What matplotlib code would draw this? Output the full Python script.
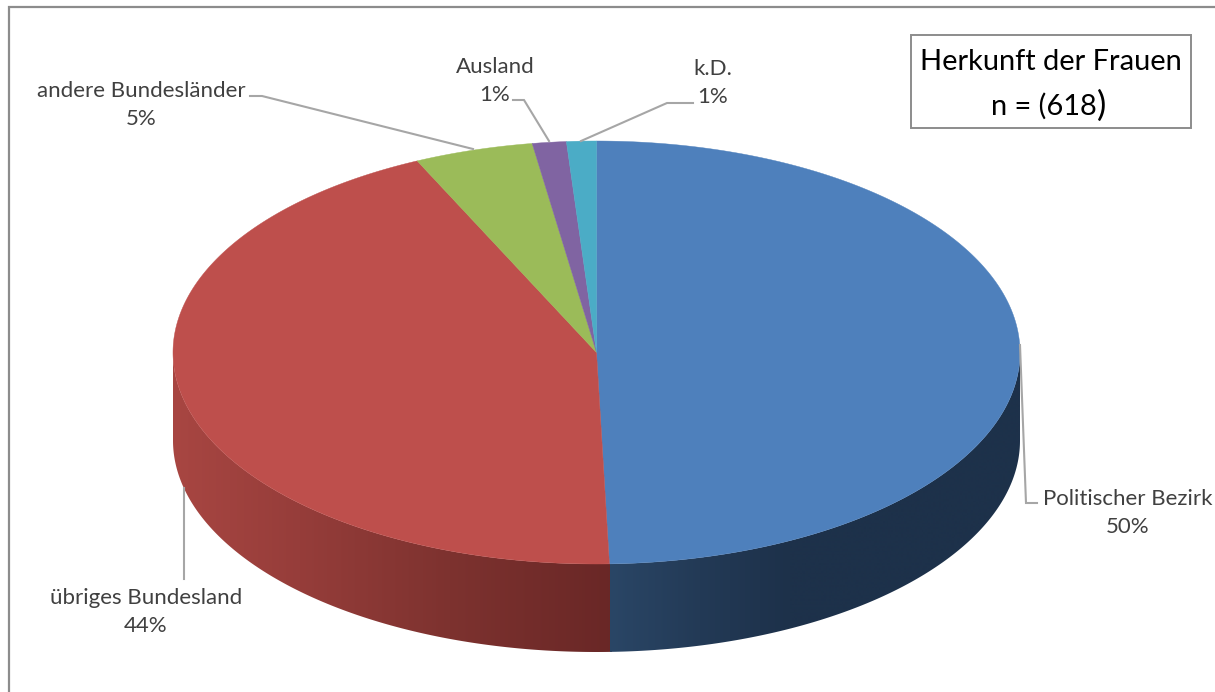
"""Herkunft der Frauen: 3D-style pie drawn on a pixel-sized axes."""

import matplotlib

matplotlib.use("Agg")
import matplotlib.pyplot as plt
import numpy as np
from matplotlib.path import Path
from matplotlib.patches import PathPatch, Polygon, Rectangle

categories = ["Politischer Bezirk", "übriges Bundesland", "andere Bundesländer", "Ausland", "k.D."]
counts = [306, 269, 28, 8, 7]
top_colors = ["#4E80BC", "#BE4F4C", "#9BBB59", "#8064A2", "#4BACC6"]
title_lines = ["Herkunft der Frauen", "n = (618", ")"]

# label centres and leader lines, in pixels of the 1215x692 figure
label_pos = [(1128, 513), (146, 612), (141, 105), (495, 81), (713, 83)]
leaders = [
    [(1020, 345), (1026, 503), (1037, 503)],
    [(184, 488), (184, 579)],
    [(250, 96), (262, 96), (473, 149)],
    [(513, 100), (524, 100), (549, 141)],
    [(693, 103), (667, 103), (581, 141)],
]

CX, CY, RX, RY, DEPTH = 596.5, 352.5, 423.5, 211.5, 88
FONT = ["Lato", "DejaVu Sans"]
FRAME = "#8C8C8C"
LEADER = "#A6A6A6"
TEXT = "#404040"

# wall shading: colour stops along x, (x, r, g, b)
RED_WALL = [(173, 168, 70, 66), (300, 150, 61, 58), (450, 125, 50, 47), (616, 105, 39, 38)]
BLUE_WALL = [(610, 42, 70, 102), (700, 35, 58, 86), (790, 29, 49, 74), (1020, 29, 49, 74)]


def rim(t):
    """Point on the top ellipse; t is clockwise from 12 o'clock, in radians."""
    return CX + RX * np.sin(t), CY - RY * np.cos(t)


def wall(ax, t0, t1, stops):
    """Front wall between two angles, filled with a horizontal gradient."""
    t = np.linspace(t0, t1, 300)
    x, y = rim(t)
    verts = np.vstack([np.c_[x, y], np.c_[x[::-1], y[::-1] + DEPTH]])
    clip = PathPatch(Path(np.vstack([verts, verts[:1]]), closed=True), fc="none", ec="none")
    ax.add_patch(clip)
    stops = np.array(stops, dtype=float)
    xs = np.arange(stops[0, 0], stops[-1, 0] + 1)
    img = np.stack([np.interp(xs, stops[:, 0], stops[:, i]) for i in (1, 2, 3)], axis=-1)
    im = ax.imshow(img[None, :, :] / 255, extent=(xs[0], xs[-1], 700, 300), aspect="auto",
                   interpolation="bilinear", zorder=2)
    im.set_clip_path(clip)


fig = plt.figure(figsize=(12.15, 6.92), dpi=100, facecolor="white")
ax = fig.add_axes([0, 0, 1, 1])

shares = np.array(counts) / sum(counts)
edges = np.concatenate([[0], np.cumsum(shares)]) * 2 * np.pi

# side walls are only visible on the front half; red runs slightly under blue to hide the seam
wall(ax, edges[1] - 0.006, 1.5 * np.pi, RED_WALL)
wall(ax, edges[0] + np.pi / 2, edges[1], BLUE_WALL)

for t0, t1, color in zip(edges[:-1], edges[1:], top_colors):
    t = np.linspace(t0, t1, 400)
    x, y = rim(t)
    pts = np.vstack([[CX, CY], np.c_[x, y]])
    ax.add_patch(Polygon(pts, closed=True, fc=color, ec=color, lw=0.3, zorder=3))

for line in leaders:
    xs, ys = zip(*line)
    ax.plot(xs, ys, color=LEADER, lw=1.5, zorder=4, solid_joinstyle="miter")

for name, share, (lx, ly) in zip(categories, shares, label_pos):
    ax.text(lx, ly, f"{name}\n{share * 100:.0f}%", ha="center", va="center", color=TEXT,
            fontsize=16, family=FONT, linespacing=1.56, zorder=5)

# outer frame: only left and top edges are in the picture
ax.plot([9, 9, 1215], [692, 7, 7], color=FRAME, lw=1.6, zorder=1, solid_joinstyle="miter")

ax.add_patch(Rectangle((911, 35), 280, 93, fc="white", ec=FRAME, lw=1.4, zorder=5))
ax.text(1051, 62, title_lines[0], ha="center", va="center", color="black", fontsize=20.9,
        family=FONT, zorder=6)
ax.text(1097, 115, title_lines[1], ha="right", va="baseline", color="black", fontsize=20.9,
        family=FONT, zorder=6)
# the closing bracket is set larger than the rest of the line
ax.text(1097, 116, title_lines[2], ha="left", va="baseline", color="black", fontsize=25,
        family=FONT, zorder=6)

ax.set_xlim(0, 1215)
ax.set_ylim(692, 0)
ax.axis("off")
fig.savefig("out.png", dpi=100, facecolor="white")
plt.close(fig)
